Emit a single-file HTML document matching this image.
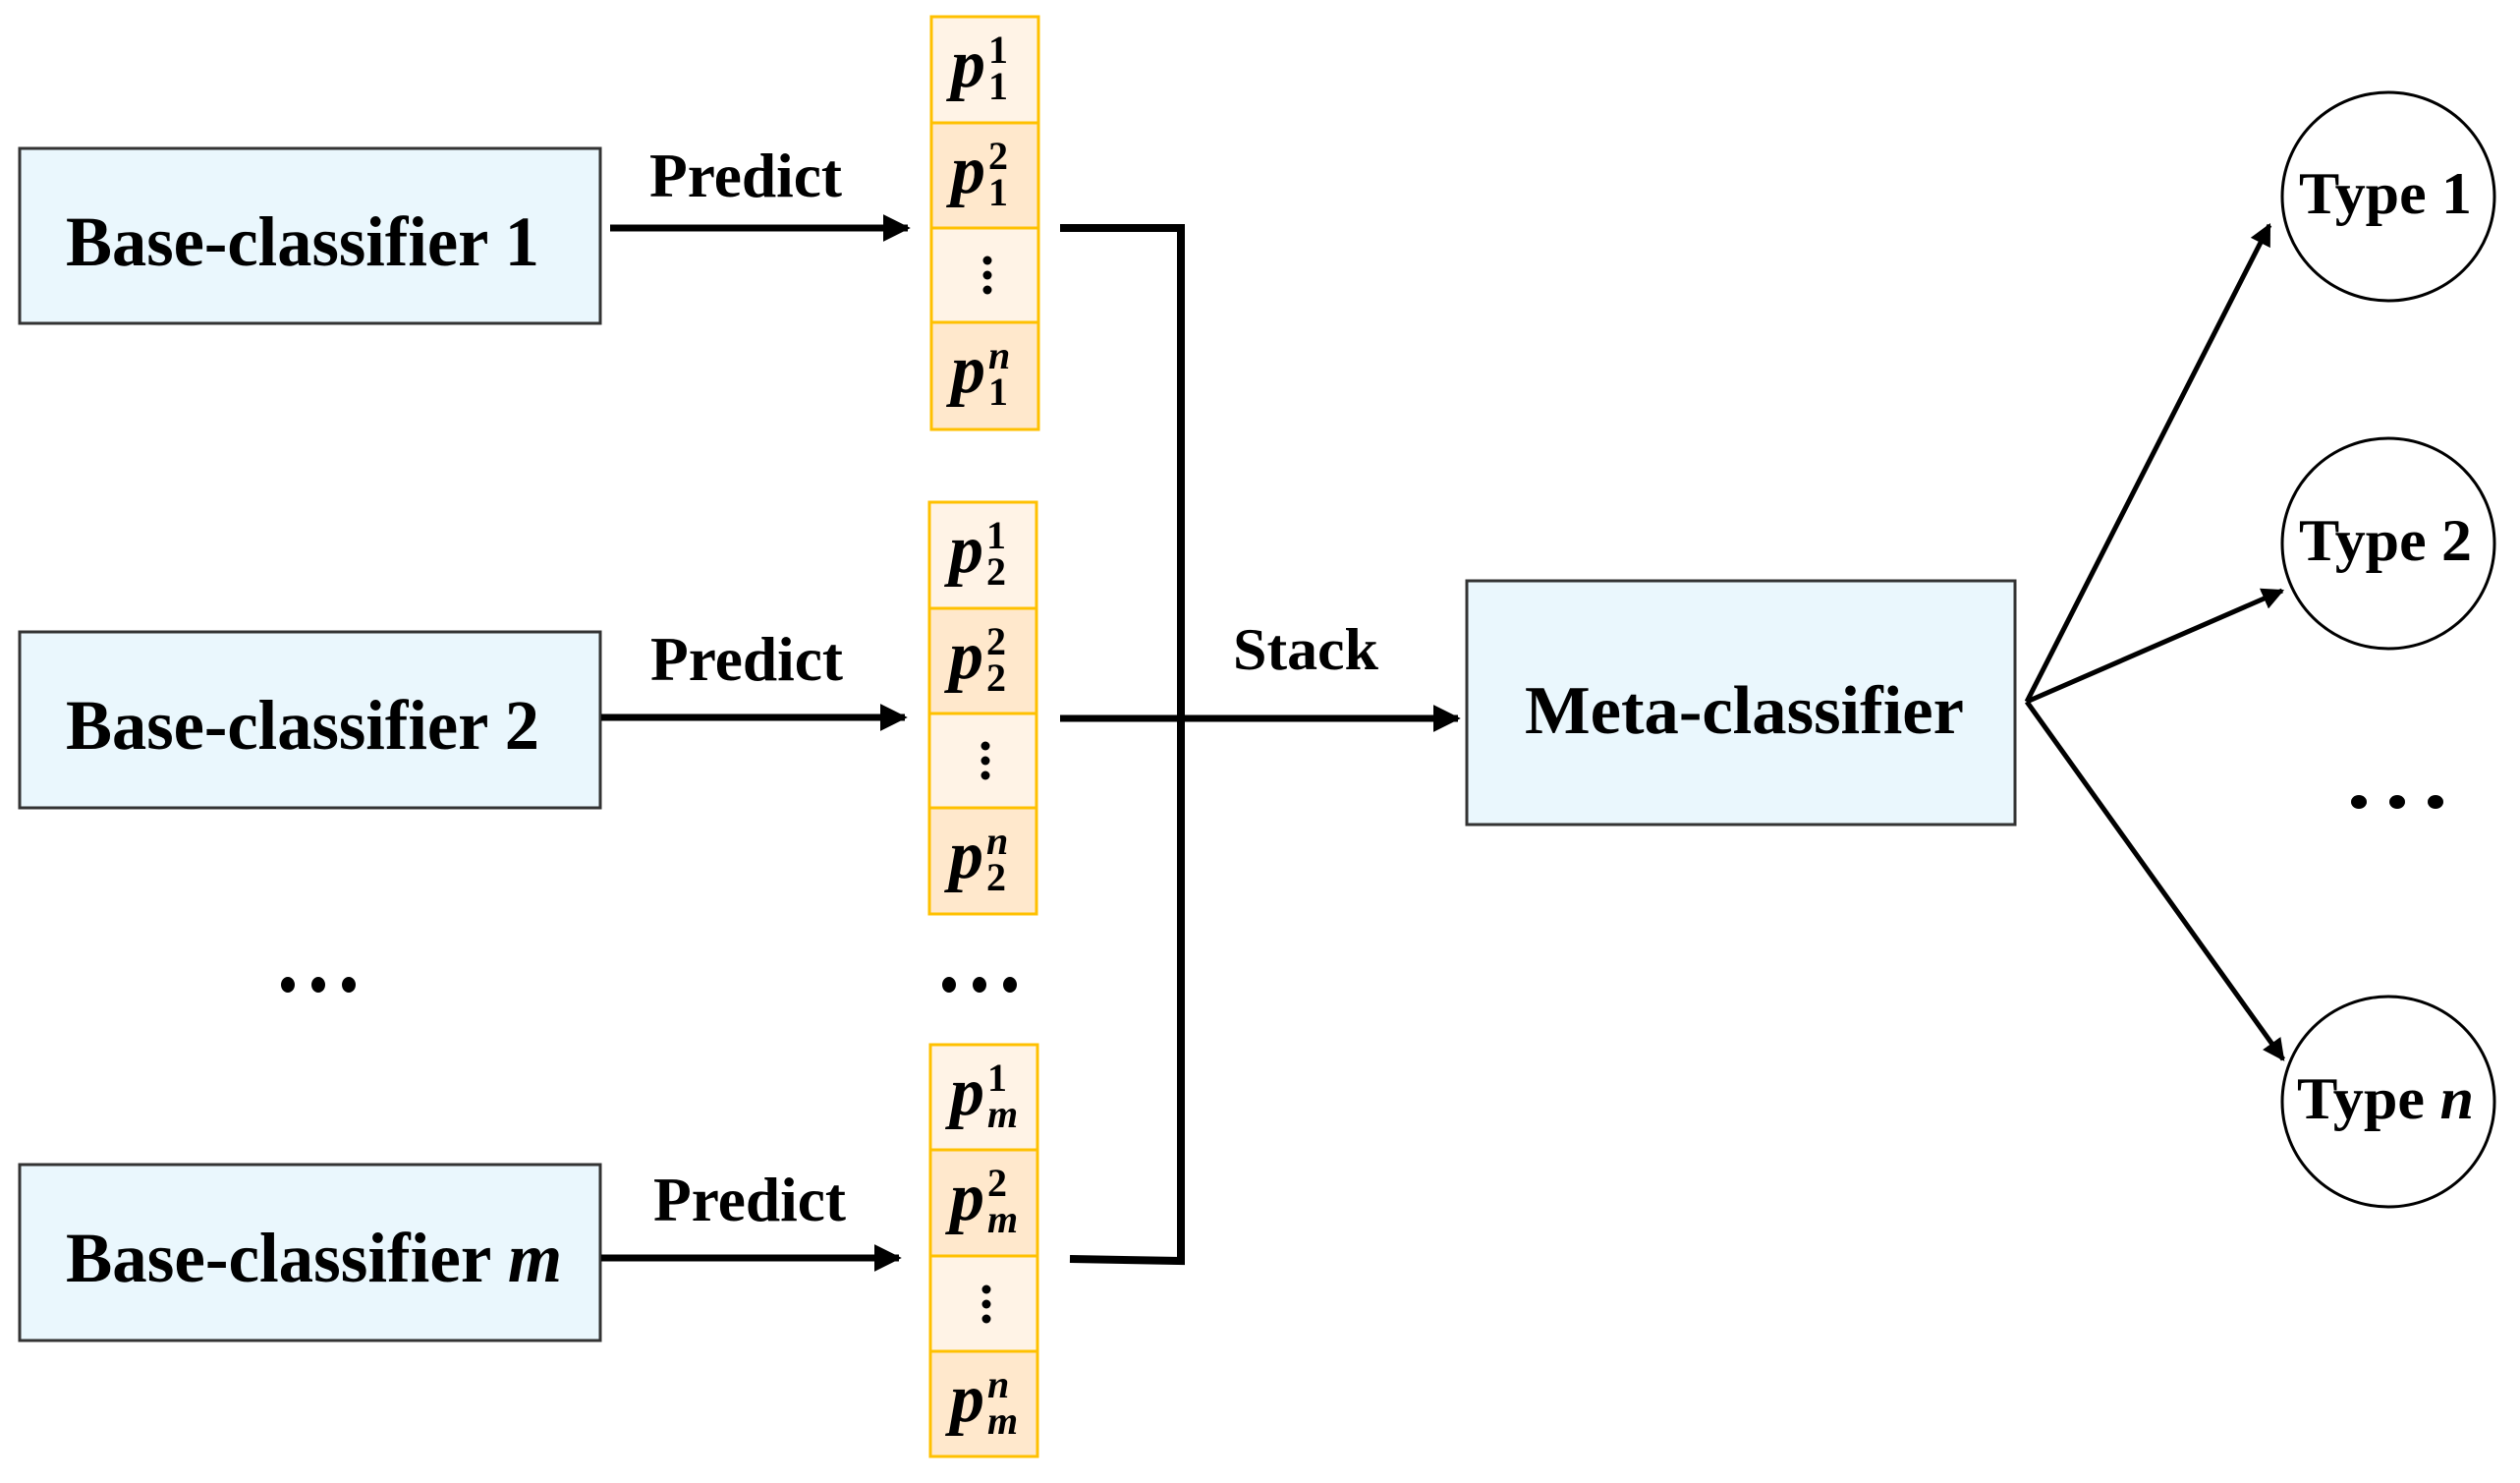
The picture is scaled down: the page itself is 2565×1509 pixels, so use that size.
<!DOCTYPE html>
<html><head><meta charset="utf-8"><style>
html,body{margin:0;padding:0;background:#fff;}
svg{display:block;}
text{font-family:"Liberation Serif",serif;font-weight:bold;fill:#000;}
</style></head><body>
<svg width="2565" height="1509" viewBox="0 0 2565 1509" xmlns="http://www.w3.org/2000/svg">
<defs>
<marker id="ah" viewBox="0 0 10 10" refX="9" refY="5" markerWidth="4" markerHeight="4" orient="auto" markerUnits="strokeWidth"><path d="M0,0 L10,5 L0,10 z" fill="#000"/></marker>
<marker id="ah2" viewBox="0 0 10 10" refX="9" refY="5" markerWidth="4.5" markerHeight="4.5" orient="auto" markerUnits="strokeWidth"><path d="M0,0 L10,5 L0,10 z" fill="#000"/></marker>
</defs>

<rect x="20" y="151" width="591" height="178" fill="#eaf7fd" stroke="#333" stroke-width="3"/>
<rect x="20" y="643" width="591" height="179" fill="#eaf7fd" stroke="#333" stroke-width="3"/>
<rect x="20" y="1185" width="591" height="179" fill="#eaf7fd" stroke="#333" stroke-width="3"/>
<text x="67" y="270" font-size="72" textLength="482" lengthAdjust="spacingAndGlyphs">Base-classifier 1</text>
<text x="67" y="762" font-size="72" textLength="482" lengthAdjust="spacingAndGlyphs">Base-classifier 2</text>
<text x="67" y="1304" font-size="72" textLength="505" lengthAdjust="spacingAndGlyphs">Base-classifier <tspan font-style="italic">m</tspan></text>

<text x="661" y="200" font-size="64" textLength="196" lengthAdjust="spacingAndGlyphs">Predict</text>
<text x="662" y="692" font-size="64" textLength="196" lengthAdjust="spacingAndGlyphs">Predict</text>
<text x="665" y="1242" font-size="64" textLength="196" lengthAdjust="spacingAndGlyphs">Predict</text>
<line x1="621" y1="232" x2="924" y2="232" stroke="#000" stroke-width="7" marker-end="url(#ah)"/>
<line x1="612" y1="730" x2="921" y2="730" stroke="#000" stroke-width="7" marker-end="url(#ah)"/>
<line x1="612" y1="1280" x2="915" y2="1280" stroke="#000" stroke-width="7" marker-end="url(#ah)"/>

<g stroke="#ffc000" stroke-width="3">
<rect x="948" y="17" width="109" height="108" fill="#fff3e6"/>
<rect x="948" y="125" width="109" height="107" fill="#ffe8cc"/>
<rect x="948" y="232" width="109" height="96" fill="#fff3e6"/>
<rect x="948" y="328" width="109" height="109" fill="#ffe8cc"/>
<rect x="946" y="511" width="109" height="108" fill="#fff3e6"/>
<rect x="946" y="619" width="109" height="107" fill="#ffe8cc"/>
<rect x="946" y="726" width="109" height="96" fill="#fff3e6"/>
<rect x="946" y="822" width="109" height="108" fill="#ffe8cc"/>
<rect x="947" y="1063" width="109" height="107" fill="#fff3e6"/>
<rect x="947" y="1170" width="109" height="108" fill="#ffe8cc"/>
<rect x="947" y="1278" width="109" height="97" fill="#fff3e6"/>
<rect x="947" y="1375" width="109" height="107" fill="#ffe8cc"/>
</g>

<g font-size="40">
<text x="968" y="88" font-size="70" font-style="italic">p</text><text x="1006" y="64">1</text><text x="1006" y="101">1</text>
<text x="968" y="196" font-size="70" font-style="italic">p</text><text x="1006" y="172">2</text><text x="1006" y="209">1</text>
<text x="968" y="399" font-size="70" font-style="italic">p</text><text x="1006" y="375" font-style="italic">n</text><text x="1006" y="412">1</text>
<text x="966" y="582" font-size="70" font-style="italic">p</text><text x="1004" y="558">1</text><text x="1004" y="595">2</text>
<text x="966" y="690" font-size="70" font-style="italic">p</text><text x="1004" y="666">2</text><text x="1004" y="703">2</text>
<text x="966" y="893" font-size="70" font-style="italic">p</text><text x="1004" y="869" font-style="italic">n</text><text x="1004" y="906">2</text>
<text x="967" y="1134" font-size="70" font-style="italic">p</text><text x="1005" y="1110">1</text><text x="1005" y="1147" font-style="italic">m</text>
<text x="967" y="1241" font-size="70" font-style="italic">p</text><text x="1005" y="1217">2</text><text x="1005" y="1254" font-style="italic">m</text>
<text x="967" y="1446" font-size="70" font-style="italic">p</text><text x="1005" y="1422" font-style="italic">n</text><text x="1005" y="1459" font-style="italic">m</text>
</g>

<g fill="#000">
<circle cx="1005" cy="265" r="4.5"/><circle cx="1005" cy="280" r="4.5"/><circle cx="1005" cy="295" r="4.5"/>
<circle cx="1003" cy="759" r="4.5"/><circle cx="1003" cy="774" r="4.5"/><circle cx="1003" cy="789" r="4.5"/>
<circle cx="1004" cy="1312" r="4.5"/><circle cx="1004" cy="1327" r="4.5"/><circle cx="1004" cy="1342" r="4.5"/>
</g>

<g fill="#000">
<ellipse cx="293" cy="1002" rx="7" ry="8"/><ellipse cx="324" cy="1002" rx="7" ry="8"/><ellipse cx="355" cy="1002" rx="7" ry="8"/>
<ellipse cx="966" cy="1002" rx="7" ry="8"/><ellipse cx="997" cy="1002" rx="7" ry="8"/><ellipse cx="1028" cy="1002" rx="7" ry="8"/>
<ellipse cx="2401" cy="816" rx="8" ry="7"/><ellipse cx="2440" cy="816" rx="8" ry="7"/><ellipse cx="2479" cy="816" rx="8" ry="7"/>
</g>

<polyline points="1079,232 1202,232 1202,1283 1089,1281" fill="none" stroke="#000" stroke-width="8"/>
<line x1="1079" y1="731" x2="1484" y2="731" stroke="#000" stroke-width="7" marker-end="url(#ah)"/>
<text x="1255" y="681" font-size="60" textLength="148" lengthAdjust="spacingAndGlyphs">Stack</text>

<rect x="1493" y="591" width="558" height="248" fill="#eaf7fd" stroke="#333" stroke-width="3"/>
<text x="1552" y="746" font-size="70" textLength="447" lengthAdjust="spacingAndGlyphs">Meta-classifier</text>

<g stroke="#000" stroke-width="5" fill="none">
<line x1="2063" y1="714" x2="2310" y2="229" marker-end="url(#ah2)"/>
<line x1="2063" y1="714" x2="2323" y2="601" marker-end="url(#ah2)"/>
<line x1="2063" y1="714" x2="2324" y2="1078" marker-end="url(#ah2)"/>
</g>

<g fill="#fff" stroke="#000" stroke-width="3">
<ellipse cx="2431" cy="200" rx="108" ry="106"/>
<ellipse cx="2431" cy="553" rx="108" ry="107"/>
<ellipse cx="2431" cy="1121" rx="108" ry="107"/>
</g>
<text x="2340" y="217" font-size="60" textLength="176" lengthAdjust="spacingAndGlyphs">Type 1</text>
<text x="2340" y="570" font-size="60" textLength="176" lengthAdjust="spacingAndGlyphs">Type 2</text>
<text x="2338" y="1138" font-size="60" textLength="180" lengthAdjust="spacingAndGlyphs">Type <tspan font-style="italic">n</tspan></text>
</svg>
</body></html>
